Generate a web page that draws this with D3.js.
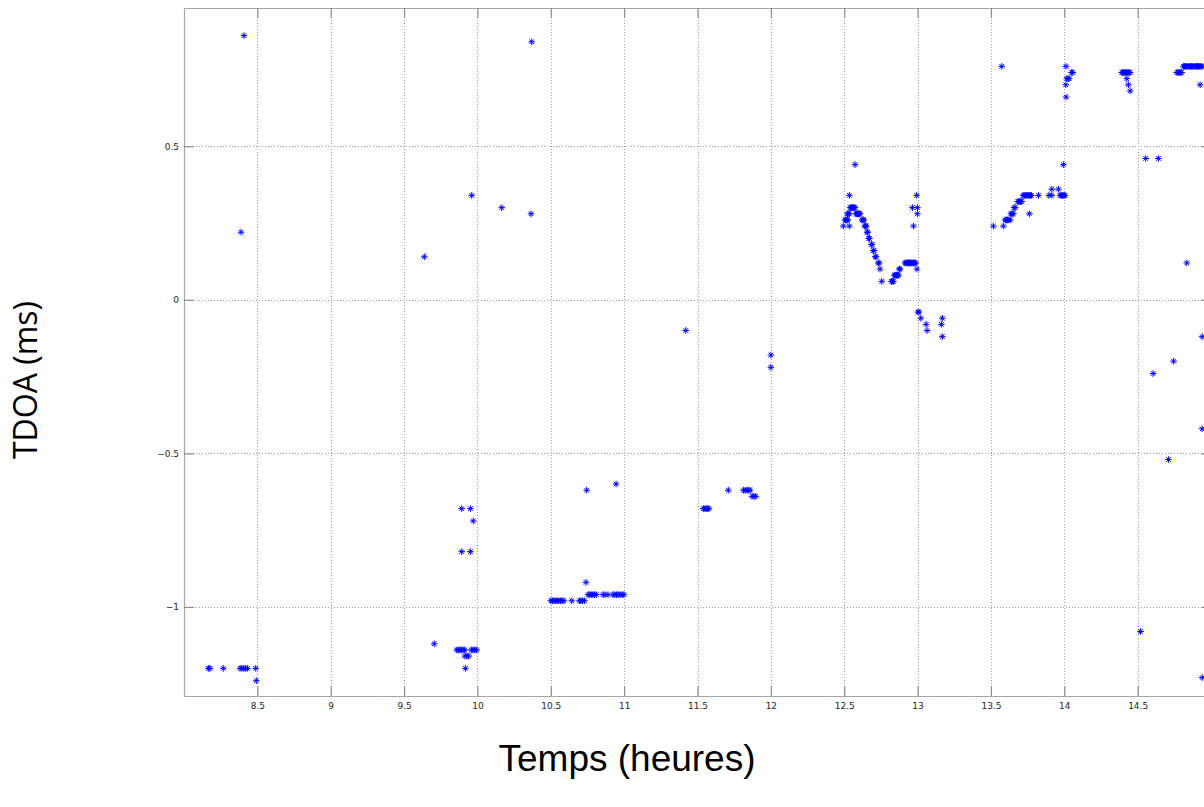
<!DOCTYPE html>
<html lang="fr">
<head>
  <meta charset="UTF-8">
  <title>TDOA</title>
  <style>
    body { margin: 0; background: #fff; }
    svg { display: block; }
  </style>
</head>
<body>
  <svg width="1204" height="807"></svg>
  <script src="https://d3js.org/d3.v7.min.js"></script>
  <script>
    // temps (heures) et TDOA (ms), point par point
    var heures = [
      8.409, 8.389, 8.166, 8.177, 8.268, 8.382, 8.395, 8.408, 8.420, 8.432, 8.489, 8.493,
      9.638, 9.706, 9.893, 9.952, 9.972, 9.893, 9.952, 9.961,
      9.859, 9.870, 9.881, 9.892, 9.903, 9.914, 9.958, 9.970, 9.983, 9.995,
      9.915, 9.929, 9.940, 9.918,
      10.166, 10.365, 10.370, 10.745, 10.945, 10.740,
      10.500, 10.511, 10.522, 10.533, 10.544, 10.555, 10.566, 10.577, 10.590, 10.643, 10.695, 10.706, 10.717, 10.730,
      10.754, 10.765, 10.776, 10.787, 10.798, 10.810, 10.856, 10.870, 10.890, 10.924, 10.936, 10.948, 10.960, 10.972, 10.986, 10.998,
      11.420, 12.000, 12.000, 11.710,
      11.813, 11.825, 11.837, 11.848, 11.859, 11.872, 11.885, 11.897,
      11.540, 11.550, 11.560, 11.570, 11.578,
      12.574, 12.535, 12.494, 12.535,
      12.506, 12.512, 12.519, 12.524, 12.522, 12.528, 12.535,
      12.540, 12.546, 12.551, 12.557, 12.562, 12.568, 12.574,
      12.580, 12.585, 12.591, 12.597, 12.603, 12.608,
      12.622, 12.628, 12.634, 12.640, 12.646, 12.650, 12.656, 12.660, 12.667, 12.672,
      12.685, 12.690, 12.698, 12.703, 12.712, 12.717, 12.733, 12.738, 12.744, 12.756,
      12.822, 12.828, 12.835, 12.842, 12.847, 12.853, 12.858, 12.864, 12.870, 12.876, 12.881,
      12.915, 12.921, 12.927, 12.933, 12.939, 12.945, 12.951, 12.957, 12.963, 12.969, 12.975, 12.981, 12.987, 12.996,
      12.994, 12.965, 12.999, 12.999, 12.972,
      13.003, 13.009, 13.022, 13.058, 13.065, 13.169, 13.162, 13.169,
      13.517, 13.585, 13.597, 13.605, 13.613, 13.622, 13.631, 13.636, 13.644, 13.653, 13.658, 13.665,
      13.683, 13.690, 13.697, 13.704, 13.710,
      13.719, 13.726, 13.733, 13.740, 13.747, 13.754, 13.761, 13.768, 13.776, 13.824, 13.895, 13.915,
      13.971, 13.978, 13.985, 13.992, 13.999, 14.005,
      13.915, 13.960, 13.762, 13.994, 13.574,
      14.012, 14.050, 14.058, 14.017, 14.025, 14.033, 14.010, 14.012,
      14.392, 14.399, 14.406, 14.413, 14.420, 14.427, 14.434, 14.441, 14.449, 14.426, 14.437, 14.449,
      14.555, 14.641,
      14.767, 14.775, 14.783, 14.791, 14.800,
      14.812, 14.820, 14.828, 14.836, 14.844, 14.852, 14.860, 14.868, 14.876, 14.884, 14.892, 14.900, 14.908, 14.916, 14.924, 14.932, 14.940,
      14.926, 14.835, 14.940, 14.745, 14.605, 14.940, 14.710, 14.520, 14.940
    ];

    var tdoa = [
      0.86, 0.22, -1.2, -1.2, -1.2, -1.2, -1.2, -1.2, -1.2, -1.2, -1.2, -1.24,
      0.14, -1.12, -0.68, -0.68, -0.72, -0.82, -0.82, 0.34,
      -1.14, -1.14, -1.14, -1.14, -1.14, -1.14, -1.14, -1.14, -1.14, -1.14,
      -1.16, -1.16, -1.16, -1.2,
      0.30, 0.28, 0.84, -0.62, -0.60, -0.92,
      -0.98, -0.98, -0.98, -0.98, -0.98, -0.98, -0.98, -0.98, -0.98, -0.98, -0.98, -0.98, -0.98, -0.98,
      -0.96, -0.96, -0.96, -0.96, -0.96, -0.96, -0.96, -0.96, -0.96, -0.96, -0.96, -0.96, -0.96, -0.96, -0.96, -0.96,
      -0.10, -0.18, -0.22, -0.62,
      -0.62, -0.62, -0.62, -0.62, -0.62, -0.64, -0.64, -0.64,
      -0.68, -0.68, -0.68, -0.68, -0.68,
      0.44, 0.34, 0.24, 0.24,
      0.26, 0.26, 0.26, 0.26, 0.28, 0.28, 0.28,
      0.30, 0.30, 0.30, 0.30, 0.30, 0.30, 0.30,
      0.28, 0.28, 0.28, 0.28, 0.28, 0.28,
      0.26, 0.26, 0.26, 0.24, 0.24, 0.24, 0.22, 0.22, 0.20, 0.20,
      0.18, 0.18, 0.16, 0.16, 0.14, 0.14, 0.12, 0.12, 0.10, 0.06,
      0.06, 0.06, 0.06, 0.08, 0.08, 0.08, 0.08, 0.08, 0.08, 0.10, 0.10,
      0.12, 0.12, 0.12, 0.12, 0.12, 0.12, 0.12, 0.12, 0.12, 0.12, 0.12, 0.12, 0.12, 0.10,
      0.34, 0.30, 0.30, 0.28, 0.24,
      -0.04, -0.04, -0.06, -0.08, -0.10, -0.06, -0.08, -0.12,
      0.24, 0.24, 0.26, 0.26, 0.26, 0.26, 0.26, 0.28, 0.28, 0.28, 0.30, 0.30,
      0.32, 0.32, 0.32, 0.32, 0.32,
      0.34, 0.34, 0.34, 0.34, 0.34, 0.34, 0.34, 0.34, 0.34, 0.34, 0.34, 0.34,
      0.34, 0.34, 0.34, 0.34, 0.34, 0.34,
      0.36, 0.36, 0.28, 0.44, 0.76,
      0.76, 0.74, 0.74, 0.72, 0.72, 0.72, 0.70, 0.66,
      0.74, 0.74, 0.74, 0.74, 0.74, 0.74, 0.74, 0.74, 0.74, 0.72, 0.70, 0.68,
      0.46, 0.46,
      0.74, 0.74, 0.74, 0.74, 0.74,
      0.76, 0.76, 0.76, 0.76, 0.76, 0.76, 0.76, 0.76, 0.76, 0.76, 0.76, 0.76, 0.76, 0.76, 0.76, 0.76, 0.76,
      0.70, 0.12, -0.12, -0.20, -0.24, -0.42, -0.52, -1.08, -1.23
    ];

    var xTicks = [8.5, 9, 9.5, 10, 10.5, 11, 11.5, 12, 12.5, 13, 13.5, 14, 14.5];
    var yTicks = [-1, -0.5, 0, 0.5];

    var points = heures.map(function(h, i) { return {h: h, v: tdoa[i]}; });

    var svg = d3.select("svg");

    // the plot box runs past the right border of the picture (15 h is off-screen)
    var x = d3.scaleLinear().domain([8, 15]).range([184, 1211]);
    var y = d3.scaleLinear().domain([-1.29, 0.95]).range([696, 8]);

    var axisColor = "#a6a6a6",
        gridColor = "#9c9c9c";

    // dotted grid
    var grid = svg.append("g");
    grid.selectAll(".vgrid")
      .data(xTicks)
      .enter().append("line")
      .attr("x1", d => Math.round(x(d)) + 0.5).attr("x2", d => Math.round(x(d)) + 0.5)
      .attr("y1", y.range()[1]).attr("y2", y.range()[0])
      .attr("stroke", gridColor).attr("stroke-width", 1)
      .attr("stroke-dasharray", "1,2");
    grid.selectAll(".hgrid")
      .data(yTicks)
      .enter().append("line")
      .attr("y1", d => Math.round(y(d)) + 0.5).attr("y2", d => Math.round(y(d)) + 0.5)
      .attr("x1", x.range()[0]).attr("x2", x.range()[1])
      .attr("stroke", gridColor).attr("stroke-width", 1)
      .attr("stroke-dasharray", "1,2");

    // axes, MATLAB style: ticks inside on all four sides
    function styleAxis(sel) {
      sel.select(".domain").attr("stroke", axisColor).attr("stroke-width", 1.2);
      sel.selectAll(".tick line").attr("stroke", "#8c8c8c").attr("stroke-width", 1.2);
      sel.selectAll(".tick text")
        .attr("fill", "#262626")
        .style("font", "9px 'DejaVu Sans', sans-serif");
    }

    svg.append("g")
      .attr("transform", "translate(0," + y.range()[0] + ")")
      .call(d3.axisBottom(x).tickValues(xTicks).tickSizeInner(-10).tickSizeOuter(0).tickPadding(7)
        .tickFormat(d3.format("")))
      .call(styleAxis);

    svg.append("g")
      .attr("transform", "translate(0," + y.range()[1] + ")")
      .call(d3.axisTop(x).tickValues(xTicks).tickSizeInner(-10).tickSizeOuter(0).tickFormat(""))
      .call(styleAxis);

    svg.append("g")
      .attr("transform", "translate(" + x.range()[0] + ",0)")
      .call(d3.axisLeft(y).tickValues(yTicks).tickSizeInner(-10).tickSizeOuter(0).tickPadding(5)
        .tickFormat(d3.format("")))
      .call(styleAxis);

    svg.append("g")
      .attr("transform", "translate(" + x.range()[1] + ",0)")
      .call(d3.axisRight(y).tickValues(yTicks).tickSizeInner(-10).tickSizeOuter(0).tickFormat(""))
      .call(styleAxis);

    // '*' markers
    var star = "M-3.3,0H3.3M0,-3.3V3.3M-2.3,-2.3L2.3,2.3M-2.3,2.3L2.3,-2.3";
    svg.append("g")
      .selectAll("path")
      .data(points)
      .enter().append("path")
      .attr("d", star)
      .attr("transform", d => "translate(" + x(d.h) + "," + y(d.v) + ")")
      .attr("fill", "none")
      .attr("stroke", "#0000ff")
      .attr("stroke-width", 1);

    // axis titles
    svg.append("text")
      .attr("x", 627)
      .attr("y", 771)
      .attr("text-anchor", "middle")
      .style("font", "37px 'Liberation Sans', Arial, sans-serif")
      .attr("fill", "#000")
      .text("Temps (heures)");

    svg.append("text")
      .attr("transform", "translate(37,380) rotate(-90)")
      .attr("text-anchor", "middle")
      .style("font", "32px 'Open Sans', sans-serif")
      .attr("fill", "#000")
      .text("TDOA (ms)");
  </script>
</body>
</html>
